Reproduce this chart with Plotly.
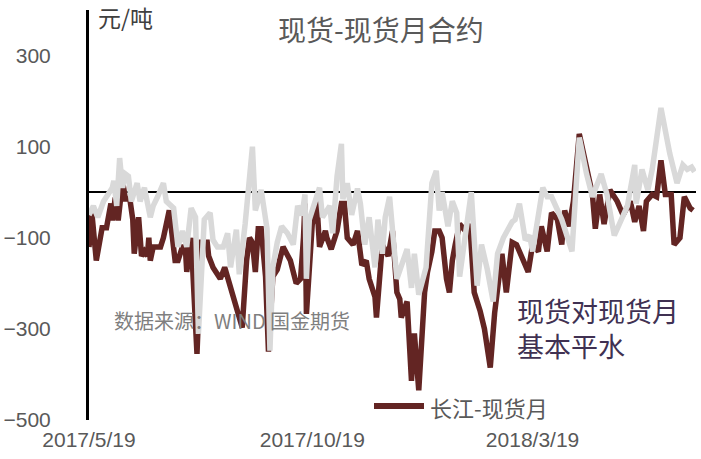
import plotly.graph_objects as go

# ---- data ----
red_dates = [
    "2017-05-19","2017-05-21","2017-05-24","2017-05-28","2017-05-31","2017-06-03","2017-06-04","2017-06-06",
    "2017-06-08","2017-06-11","2017-06-13","2017-06-16","2017-06-18","2017-06-19","2017-06-22","2017-06-24",
    "2017-06-26","2017-06-28","2017-06-29","2017-06-30","2017-07-02","2017-07-07","2017-07-09","2017-07-12",
    "2017-07-13","2017-07-17","2017-07-19","2017-07-22","2017-07-24","2017-07-25","2017-07-28","2017-08-01",
    "2017-08-04","2017-08-08","2017-08-09","2017-08-12","2017-08-17","2017-08-20","2017-08-24","2017-08-28",
    "2017-09-01","2017-09-04","2017-09-06","2017-09-08","2017-09-10","2017-09-12","2017-09-14","2017-09-17",
    "2017-09-19","2017-09-22","2017-09-25","2017-09-29","2017-10-04","2017-10-08","2017-10-11","2017-10-13",
    "2017-10-14","2017-10-15","2017-10-19","2017-10-21","2017-10-22","2017-10-24","2017-10-28","2017-10-29",
    "2017-11-01","2017-11-05","2017-11-08","2017-11-10","2017-11-12","2017-11-16","2017-11-19","2017-11-22",
    "2017-11-25","2017-11-27","2017-12-01","2017-12-02","2017-12-06","2017-12-10","2017-12-13","2017-12-16",
    "2017-12-18","2017-12-19","2017-12-23","2017-12-26","2017-12-28","2017-12-31","2018-01-02","2018-01-04",
    "2018-01-06","2018-01-09","2018-01-11","2018-01-14","2018-01-16","2018-01-19","2018-01-21","2018-01-23",
    "2018-01-25","2018-01-28","2018-02-01","2018-02-04","2018-02-07","2018-02-11","2018-02-14","2018-02-18",
    "2018-02-21","2018-02-26","2018-03-01","2018-03-05","2018-03-08","2018-03-12","2018-03-16","2018-03-19",
    "2018-03-23","2018-03-25","2018-03-29","2018-04-01","2018-04-05","2018-04-08","2018-04-10","2018-04-13",
    "2018-04-16","2018-04-20","2018-04-25","2018-04-29","2018-05-01","2018-05-04","2018-05-07","2018-05-11",
    "2018-05-16","2018-05-20","2018-05-25","2018-05-28","2018-05-31","2018-06-03","2018-06-05","2018-06-09",
    "2018-06-12","2018-06-15","2018-06-18","2018-06-22","2018-06-24","2018-06-28","2018-07-01","2018-07-05",
    "2018-07-07",
]
red_values = [
    -120, -47, -150, -78, -78, -25, -62, -12,
    -62, 25, -15, -15, -60, -135, -55, -140,
    -130, -140, -100, -150, -120, -120, -100, -50,
    -40, -150, -150, -120, -120, -175, -100, -355,
    -110, -110, -140, -165, -190, -165, -210, -250,
    -297, -150, -100, -110, -175, -80, -80, -185,
    -350, -185, -170, -120, -150, -200, -190, -100,
    -25, -267, -70, -50, -15, -120, -85, -100,
    -125, -85, -25, -25, -100, -115, -85, -160,
    -150, -190, -230, -275, -115, -140, -85, -220,
    -235, -275, -240, -414, -310, -435, -320, -220,
    -175, -130, -85, -85, -100, -190, -220, -150,
    -115, -70, -85, -70, -220, -260, -300, -385,
    -265, -135, -220, -110, -115, -145, -175, -115,
    -130, -75, -130, -45, -60, -115, -40, -75,
    -20, 128, 55, -5, -80, -5, -70, 5,
    -20, -50, -20, -65, -30, -85, -20, -5,
    -10, 70, -5, -5, -115, -100, -10, -35,
    -40,
]

gray_dates = [
    "2017-05-19","2017-05-22","2017-05-25","2017-05-29","2017-06-01","2017-06-04","2017-06-05","2017-06-07",
    "2017-06-09","2017-06-11","2017-06-13","2017-06-15","2017-06-17","2017-06-21","2017-06-23","2017-06-26",
    "2017-06-30","2017-07-02","2017-07-05","2017-07-09","2017-07-11","2017-07-16","2017-07-19","2017-07-22",
    "2017-07-25","2017-07-28","2017-07-31","2017-08-02","2017-08-06","2017-08-10","2017-08-12","2017-08-15",
    "2017-08-19","2017-08-22","2017-08-24","2017-08-28","2017-08-30","2017-09-03","2017-09-08","2017-09-10",
    "2017-09-14","2017-09-18","2017-09-20","2017-09-22","2017-09-25","2017-09-28","2017-10-02","2017-10-06",
    "2017-10-09","2017-10-12","2017-10-14","2017-10-15","2017-10-17","2017-10-24","2017-10-26","2017-10-31",
    "2017-11-02","2017-11-05","2017-11-08","2017-11-09","2017-11-12","2017-11-15","2017-11-19","2017-11-21",
    "2017-11-24","2017-11-27","2017-12-01","2017-12-03","2017-12-06","2017-12-08","2017-12-11","2017-12-16",
    "2017-12-23","2017-12-26","2017-12-28","2017-12-31","2018-01-05","2018-01-09","2018-01-12","2018-01-14",
    "2018-01-16","2018-01-20","2018-01-23","2018-01-26","2018-01-28","2018-02-02","2018-02-05","2018-02-09",
    "2018-02-12","2018-02-16","2018-02-20","2018-02-23","2018-02-27","2018-03-05","2018-03-07","2018-03-10",
    "2018-03-14","2018-03-17","2018-03-19","2018-03-26","2018-03-29","2018-04-01","2018-04-04","2018-04-08",
    "2018-04-15","2018-04-20","2018-04-25","2018-04-29","2018-05-05","2018-05-09","2018-05-14","2018-05-19",
    "2018-05-23","2018-05-28","2018-05-29","2018-06-02","2018-06-06","2018-06-09","2018-06-15","2018-06-21",
    "2018-06-26","2018-06-30","2018-07-03","2018-07-06","2018-07-08",
]
gray_values = [
    -50, -30, -55, -20, -5, 10, 25, -30,
    75, 10, 40, 35, -20, 20, -20, 10,
    -55, -30, -10, 20, -20, -35, -120, -85,
    -120, -35, -55, -311, -60, -45, -105, -120,
    -120, -90, -165, -82, -180, -70, 100, -40,
    5, -80, -348, -165, -110, -75, -90, -115,
    -30, -50, -5, -190, -60, 10, -55, -30,
    -90, 35, 106, -15, 20, -50, 8, -25,
    -115, -55, -165, -60, -135, -55, -10, -190,
    -125, -210, -135, -225, -165, 20, 47, -40,
    0, -75, -20, -45, -185, -75, 0, -205,
    -115, -170, -240, -135, -100, -65, -60, -25,
    -105, -95, -130, 10, -10, -10, -30, -60,
    -130, 120, 40, -10, 40, -5, -95, -60,
    -30, 60, -25, 50, 5, 50, 185, 85,
    20, 60, 50, 55, 45,
]

red_name = "长江-现货月"
gray_name = "现货月"
tick_dates = ["2017-05-19", "2017-10-19", "2018-03-19"]
tick_text = ["2017/5/19", "2017/10/19", "2018/3/19"]
y_ticks = [-500, -300, -100, 100, 300]

RED = "#632523"
GRAY = "#D9D9D9"
TXT = "#595959"
CJK = "Noto Sans CJK SC, Noto Sans, sans-serif"
LAT = "Liberation Sans, Arial, sans-serif"

fig = go.Figure()
fig.add_trace(go.Scatter(x=red_dates, y=red_values, mode="lines", name=red_name,
                         line=dict(color=RED, width=5.5), showlegend=False))
fig.add_trace(go.Scatter(x=gray_dates, y=gray_values, mode="lines", name=gray_name,
                         line=dict(color=GRAY, width=5.5), showlegend=False))

W, H = 701, 459
L, R, T, B = 89, 5, 10, 39
pw, ph = W - L - R, H - T - B

def px(xpix):
    return (xpix - L) / pw

def py(ypix):
    return (H - B - ypix) / ph

fig.update_layout(
    width=W, height=H,
    margin=dict(l=L, r=R, t=T, b=B),
    paper_bgcolor="white", plot_bgcolor="white",
    showlegend=False,
    xaxis=dict(type="date", range=["2017-05-19", "2018-07-09"], automargin=False,
               tickvals=tick_dates, ticktext=tick_text, showgrid=False,
               showline=False, zeroline=False, ticks="", ticklabelstandoff=5,
               tickfont=dict(family=LAT, size=21, color=TXT)),
    yaxis=dict(range=[-500, 400], tickvals=y_ticks, showgrid=False, automargin=False,
               showline=True, linecolor="black", linewidth=3,
               zeroline=True, zerolinecolor="black", zerolinewidth=2,
               ticks="", ticklabelstandoff=31,
               tickfont=dict(family=LAT, size=21, color=TXT)),
)

# legend drawn as a short line + label
fig.add_shape(type="line", xref="paper", yref="paper",
              x0=px(374), x1=px(424), y0=py(406), y1=py(406),
              line=dict(color=RED, width=6))
fig.add_annotation(xref="paper", yref="paper", x=px(428), y=py(407),
                   xanchor="left", yanchor="middle", showarrow=False,
                   text=red_name, font=dict(family=CJK, size=22, color=TXT))

# title
fig.add_annotation(xref="paper", yref="paper", x=px(381), y=py(29),
                   xanchor="center", yanchor="middle", showarrow=False,
                   text="现货-现货月合约", font=dict(family=CJK, size=28, color=TXT))
# unit
fig.add_annotation(xref="paper", yref="paper", x=px(96), y=py(17),
                   xanchor="left", yanchor="middle", showarrow=False,
                   text="元/吨", font=dict(family=CJK, size=23, color="#404040"))
# source
fig.add_annotation(xref="paper", yref="paper", x=px(112), y=py(320),
                   xanchor="left", yanchor="middle", showarrow=False,
                   text="数据来源：WIND 国金期货", font=dict(family=CJK, size=20, color="#7F7F7F"))
# comment
fig.add_annotation(xref="paper", yref="paper", x=px(515), y=py(328),
                   xanchor="left", yanchor="middle", showarrow=False, align="left",
                   text="现货对现货月<br>基本平水", font=dict(family=CJK, size=27, color="#403152"))

fig.write_html("out.html", config={"displayModeBar": False},
               post_script="document.body.style.margin='0';document.body.style.overflow='hidden';")
